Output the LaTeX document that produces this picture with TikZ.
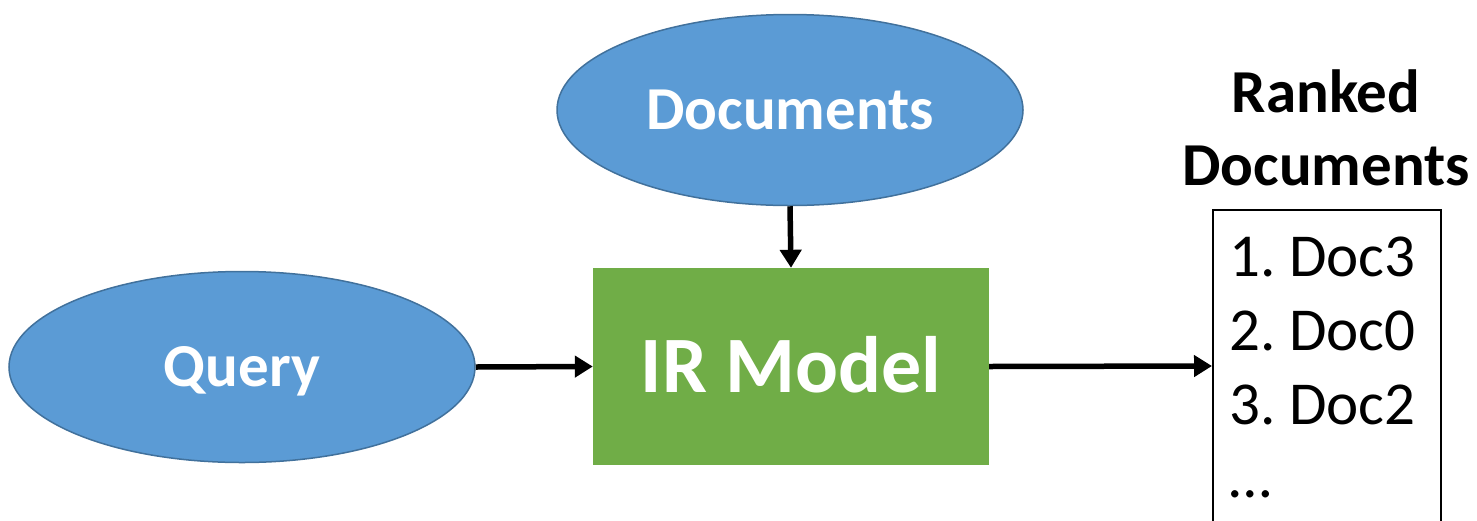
\documentclass[tikz,border=0pt]{standalone}
\usepackage{fontspec}
\setmainfont{Carlito}
\usetikzlibrary{shapes.geometric,arrows.meta}
\definecolor{ellfill}{HTML}{5B9BD5}
\definecolor{elldraw}{HTML}{41719C}
\definecolor{irgreen}{HTML}{70AD47}
\frenchspacing
\tikzset{
  ell/.style={ellipse, fill=ellfill, draw=elldraw, line width=1.5pt, inner sep=0pt,
    minimum width=466pt, minimum height=191pt, text=white,
    font=\fontsize{61}{73}\selectfont\bfseries, text height=39pt, text depth=0pt},
  irbox/.style={rectangle, fill=irgreen, inner sep=0pt, minimum width=396pt, minimum height=197pt,
    text=white, font=\fontsize{80}{96}\selectfont\bfseries, text height=51pt, text depth=0pt},
  conn/.style={line width=5.5pt, -{Triangle[length=18pt,width=21pt]}},
  listitem/.style={anchor=base west, inner sep=0pt, font=\frenchspacing\fontsize{61}{72}\selectfont},
}
\begin{document}
\begin{tikzpicture}[x=1pt,y=-1pt]
\clip (0,0) rectangle (1477,520);
\fill[white] (0,0) rectangle (1477,520);
\node[ell] (docs) at (790,110) {Documents};
\node[ell] (q) at (242,367) {Query};
\node[irbox] (ir) at (791,366.5) {IR Model};
\node[draw=black, line width=1.8pt, rectangle, inner sep=0pt, minimum width=228pt, minimum height=340pt, anchor=north west] (box) at (1212,209) {};
\node[anchor=base, inner sep=0pt, font=\fontsize{61}{73}\selectfont\bfseries] (t1) at (1326,112) {Ranked};
\node[anchor=base, inner sep=0pt, font=\fontsize{61}{73}\selectfont\bfseries] (t2) at (1326,185) {Documents};
\node[listitem] (l1) at (1229,276) {1. Doc3};
\node[listitem] (l2) at (1229,350) {2. Doc0};
\node[listitem] (l3) at (1229,424) {3. Doc2};
\node[listitem] (l4) at (1229,497) {…};
\draw[conn] (docs.south) -- (ir.north);
\draw[conn] (q.east) -- (ir.west);
\coordinate (bx) at (1212,366);
\draw[conn] (ir.east) -- (bx);
\end{tikzpicture}
\end{document}
